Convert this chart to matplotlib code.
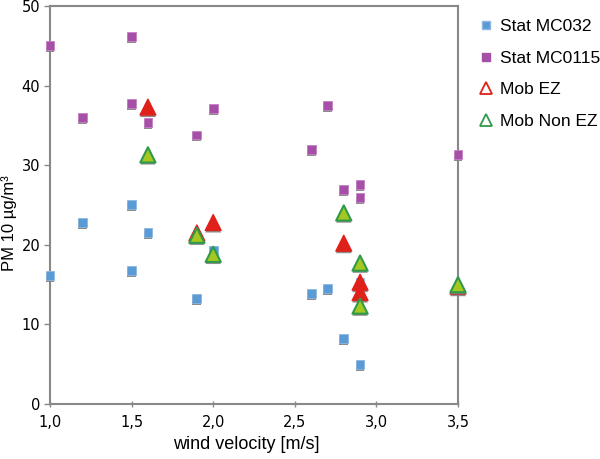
import matplotlib
matplotlib.use("Agg")
import matplotlib.pyplot as plt
import matplotlib.patheffects as pe
from matplotlib.lines import Line2D

# Data
mc032_x = [1.0, 1.2, 1.5, 1.5, 1.6, 1.9, 2.0, 2.6, 2.7, 2.8, 2.9, 2.9, 3.5]
mc032_y = [16.1, 22.8, 25.1, 16.8, 21.5, 13.3, 19.3, 13.9, 14.5, 8.2, 5.0, 15.3, 14.5]
mc0115_x = [1.0, 1.2, 1.5, 1.5, 1.6, 1.9, 2.0, 2.6, 2.7, 2.8, 2.9, 2.9, 3.5]
mc0115_y = [45.0, 36.0, 46.2, 37.8, 35.4, 33.8, 37.1, 32.0, 37.5, 26.9, 27.6, 25.9, 31.3]
ez_x = [1.6, 1.9, 2.0, 2.8, 2.9, 2.9, 3.5]
ez_y = [37.3, 21.5, 22.8, 20.2, 15.3, 14.0, 14.8]
nonez_x = [1.6, 1.9, 2.0, 2.8, 2.9, 2.9, 3.5]
nonez_y = [31.3, 21.2, 18.8, 24.0, 17.7, 12.3, 15.0]
xticks = [1.0, 1.5, 2.0, 2.5, 3.0, 3.5]
yticks = [0, 10, 20, 30, 40, 50]

fig = plt.figure(figsize=(6, 4.59), dpi=100)
ax = fig.add_axes([50/600, 55/459, 408/600, 398/459])

shadow = [pe.SimplePatchShadow(offset=(0, -1.5), shadow_rgbFace='#808080', alpha=0.9), pe.Normal()]

ax.scatter(mc0115_x, mc0115_y, marker='s', s=40, color='#A64FA6', edgecolors='#C77FC7',
           linewidths=0.6, clip_on=False, zorder=3, path_effects=shadow)
ax.scatter(mc032_x, mc032_y, marker='s', s=40, color='#5B9BD5', edgecolors='#8DB8E2',
           linewidths=0.6, clip_on=False, zorder=3, path_effects=shadow)
ax.scatter(ez_x, ez_y, marker='^', s=130, color='#E0201B', edgecolors='#E0201B',
           linewidths=1.0, clip_on=False, zorder=4, path_effects=shadow)
ax.scatter(nonez_x, nonez_y, marker='^', s=120, color='#A6C81E', edgecolors='#2E9A4A',
           linewidths=1.5, clip_on=False, zorder=5, path_effects=shadow)

ax.set_xlim(1.0, 3.5)
ax.set_ylim(0, 50)
ax.set_xticks(xticks)
ax.set_xticklabels([f"{v:.1f}".replace('.', ',') for v in xticks], fontfamily='DejaVu Sans')
ax.set_yticks(yticks)
ax.set_yticklabels([str(v) for v in yticks], fontfamily='DejaVu Sans')
ax.tick_params(axis='both', labelsize=10.5, colors='#888888', labelcolor='black', length=4, width=1)
ax.tick_params(axis='x', direction='inout', pad=6)
ax.tick_params(axis='y', direction='out', pad=3)
for sp in ax.spines.values():
    sp.set_color('#888888')
    sp.set_linewidth(1.5)

ax.set_xlabel('wind velocity [m/s]', fontfamily='Liberation Sans', fontsize=13, labelpad=4)
ax.xaxis.set_label_coords(0.48, -0.08)
ax.set_ylabel('PM 10 µg/m³', fontfamily='Liberation Sans', fontsize=12, labelpad=6)
ax.yaxis.set_label_coords(-0.082, 0.455)

handles = [
    Line2D([], [], linestyle='none', marker='s', markersize=6, markerfacecolor='#5B9BD5', markeredgecolor='#8DB8E2'),
    Line2D([], [], linestyle='none', marker='s', markersize=6, markerfacecolor='#A64FA6', markeredgecolor='#A64FA6'),
    Line2D([], [], linestyle='none', marker='^', markersize=8, markerfacecolor='none', markeredgecolor='#E0201B', markeredgewidth=1.3),
    Line2D([], [], linestyle='none', marker='^', markersize=8, markerfacecolor='none', markeredgecolor='#2E9A4A', markeredgewidth=1.3),
]
fig.legend(handles, ['Stat MC032', 'Stat MC0115', 'Mob EZ', 'Mob Non EZ'],
           loc='upper left', bbox_to_anchor=(470/600, 1 - 12/459), frameon=False,
           prop={'family': 'Liberation Sans', 'size': 12.5}, handletextpad=0.35,
           labelspacing=0.95, handlelength=1.0, borderaxespad=0)

fig.savefig('out.png', dpi=100)
